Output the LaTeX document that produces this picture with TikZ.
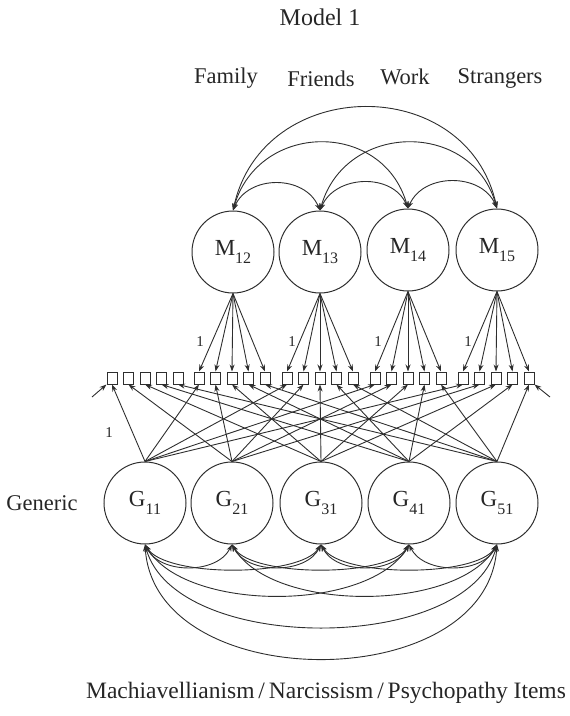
\documentclass[tikz,border=0pt]{standalone}
\usepackage{fontspec}
\setmainfont{Liberation Serif}
\usetikzlibrary{arrows.meta}
\definecolor{linec}{HTML}{2E2E2E}
\definecolor{txtc}{HTML}{262626}
\newcommand{\latsub}[2]{#1\lower0.32em\hbox{\fontsize{16}{16}\selectfont #2}}
\begin{document}
\begin{tikzpicture}[x=1pt,y=-1pt,
  lat/.style={circle,draw=linec,line width=1pt,minimum size=82pt,inner sep=0pt,font=\fontsize{23}{23}\selectfont,text=txtc},
  item/.style={draw=linec,line width=1pt,minimum width=10pt,minimum height=12pt,inner sep=0pt},
  lbl/.style={font=\fontsize{22.5}{24}\selectfont,text=txtc},
  one/.style={font=\fontsize{15}{15}\selectfont,text=txtc},
  arr/.style={draw=linec,line width=0.9pt,-{Stealth[length=7pt,width=5pt]}},
  darr/.style={draw=linec,line width=0.9pt,{Stealth[length=7pt,width=5pt]}-{Stealth[length=7pt,width=5pt]}},
]
\useasboundingbox (0,0) rectangle (570,716);
% texts
\node[lbl,font=\fontsize{24}{26}\selectfont] (title) at (320,17) {Model 1};
\node[lbl] (fam) at (226,78) {Family};
\node[lbl] (fri) at (321,79) {Friends};
\node[lbl] (wor) at (405,77) {Work};
\node[lbl] (str) at (500,78) {Strangers};
\node[lbl] (gen) at (42,503) {Generic};
\node[lbl,font=\fontsize{23.5}{25}\selectfont] (items) at (326,693) {Machiavellianism\,/\,Narcissism\,/\,Psychopathy Items};
% latent factors
\foreach \n/\x/\y/\s in {1/233/252/12,2/320/252/13,3/408/250/14,4/497/250/15}
  \node[lat] (M\n) at (\x,\y) {\latsub{M}{\s}};
\foreach \n/\x in {1/145,2/232,3/321,4/409,5/497}
  \node[lat] (G\n) at (\x,503) {\latsub{G}{\n1}};
% items
\foreach \g/\c in {1/145,2/232,3/320,4/408,5/496}
  \foreach \j in {1,...,5}
    \node[item] (b\g\j) at ({\c+(\j-3)*16.5},378) {};
% loadings from M
\foreach \m/\g in {1/2,2/3,3/4,4/5}
  \foreach \j in {1,...,5}
    \draw[arr] (M\m.south) -- (b\g\j.north);
% loadings from G
\foreach \i in {1,...,5}
  \foreach \g in {1,...,5}
    \draw[arr] (G\i.north) -- (b\g\i.south);
% error arrows
\coordinate (eL) at (92,397);
\coordinate (eR) at (550,397);
\draw[arr] (eL) -- (b11.south west);
\draw[arr] (eR) -- (b55.south east);
% fixed loadings
\node[one] (o1) at (200,342) {1};
\node[one] (o2) at (292,342) {1};
\node[one] (o3) at (378,342) {1};
\node[one] (o4) at (468,342) {1};
\node[one] (o5) at (109,433) {1};
% covariances among M
\draw[darr] (M1.north) .. controls +(15,-36) and +(-15,-36) .. (M2.north);
\draw[darr] (M2.north) .. controls +(15,-36) and +(-15,-36) .. (M3.north);
\draw[darr] (M3.north) .. controls +(15,-36) and +(-15,-36) .. (M4.north);
\draw[darr] (M1.north) .. controls +(25,-89) and +(-25,-89) .. (M3.north);
\draw[darr] (M2.north) .. controls +(25,-89) and +(-25,-89) .. (M4.north);
\draw[darr] (M1.north) .. controls +(30,-136) and +(-30,-136) .. (M4.north);
% covariances among G
\draw[darr] (G1.south) .. controls +(15,30) and +(-15,30) .. (G2.south);
\draw[darr] (G2.south) .. controls +(15,30) and +(-15,30) .. (G3.south);
\draw[darr] (G3.south) .. controls +(15,30) and +(-15,30) .. (G4.south);
\draw[darr] (G4.south) .. controls +(15,30) and +(-15,30) .. (G5.south);
\draw[darr] (G1.south) .. controls +(20,33) and +(-20,33) .. (G3.south);
\draw[darr] (G2.south) .. controls +(20,33) and +(-20,33) .. (G4.south);
\draw[darr] (G3.south) .. controls +(20,33) and +(-20,33) .. (G5.south);
\draw[darr] (G1.south) .. controls +(40,68) and +(-40,68) .. (G4.south);
\draw[darr] (G2.south) .. controls +(40,68) and +(-40,68) .. (G5.south);
\draw[darr] (G1.south) .. controls +(30,110) and +(-30,110) .. (G5.south);
\draw[darr] (G1.south) .. controls +(10,152) and +(-10,152) .. (G5.south);
\end{tikzpicture}
\end{document}
